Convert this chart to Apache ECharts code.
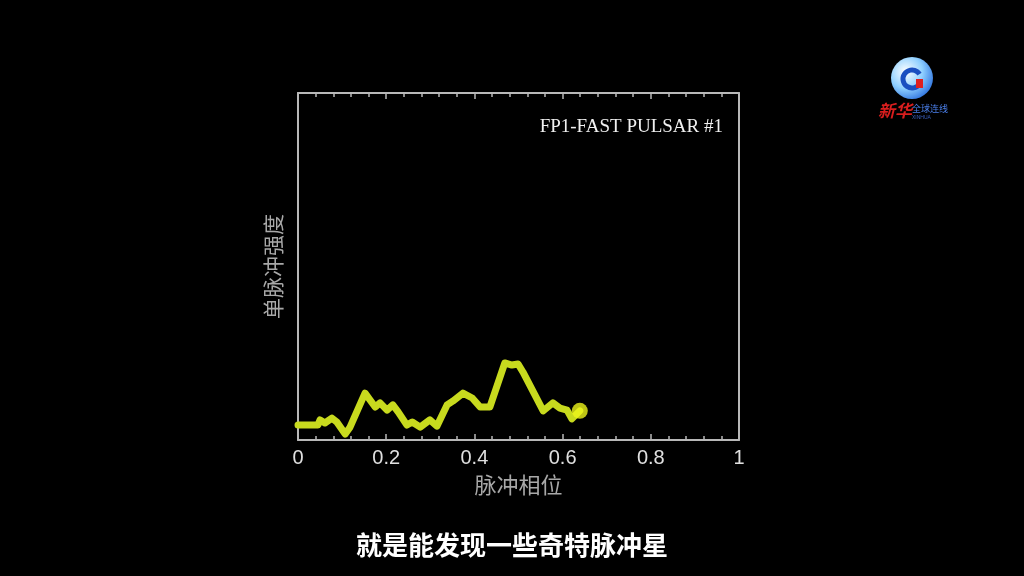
<!DOCTYPE html>
<html>
<head>
<meta charset="utf-8">
<script src="https://cdn.jsdelivr.net/npm/echarts@6/dist/echarts.min.js"></script>
<style>
html,body{margin:0;padding:0;background:#000;}
#chart{width:1024px;height:576px;}
</style>
</head>
<body>
<div id="chart"></div>
<script>
// Pulse phase (x) and single-pulse intensity (y, arbitrary units 0..1)
const phase = [0.000,0.045,0.050,0.061,0.077,0.088,0.107,0.118,0.152,0.175,0.186,0.202,0.215,0.227,0.247,0.259,0.277,0.299,0.315,0.338,0.351,0.374,0.395,0.413,0.435,0.469,0.485,0.499,0.510,0.556,0.578,0.594,0.610,0.621,0.639];
const intensity = [0.043,0.043,0.058,0.049,0.063,0.052,0.017,0.037,0.135,0.095,0.107,0.086,0.101,0.081,0.043,0.052,0.037,0.058,0.040,0.101,0.112,0.135,0.121,0.095,0.095,0.222,0.216,0.219,0.196,0.084,0.107,0.092,0.086,0.061,0.084];
const xTicks = [0, 0.2, 0.4, 0.6, 0.8, 1];
const titleText = 'FP1-FAST PULSAR #1';
const xName = '脉冲相位';
const yName = '单脉冲强度';
const caption = '就是能发现一些奇特脉冲星';

const lineData = phase.map((p, i) => [p, intensity[i]]);
const lastPoint = [lineData[lineData.length - 1]];

const chart = echarts.init(document.getElementById('chart'));
const axisColor = '#b8b8b8';
function xAxisBase() {
  return {
    type: 'value', min: 0, max: 1, interval: 0.2,
    axisLine: {show: true, onZero: false, lineStyle: {color: axisColor, width: 2}},
    axisTick: {show: true, inside: true, length: 6, lineStyle: {color: axisColor, width: 1.5}},
    minorTick: {show: true, splitNumber: 5, length: 4, lineStyle: {color: axisColor, width: 1.5}},
    splitLine: {show: false}
  };
}
chart.setOption({
  backgroundColor: '#000',
  animation: false,
  grid: {left: 298, top: 93, right: 285, bottom: 136},
  graphic: [
    {type: 'text', right: 301, top: 118, style: {text: titleText, fill: '#f0f0f0', font: '19px "Liberation Serif", serif'}},
    {type: 'text', left: 'center', top: 532, style: {text: caption, fill: '#ffffff', font: 'bold 26px "Noto Sans CJK SC", sans-serif'}},
    // broadcaster logo (approximate)
    {type: 'circle', shape: {cx: 912, cy: 78, r: 21}, style: {fill: new echarts.graphic.RadialGradient(0.35, 0.35, 0.8, [{offset: 0, color: '#ffffff'}, {offset: 0.5, color: '#8fd0ff'}, {offset: 1, color: '#1a5fd8'}])}},
    {type: 'arc', shape: {cx: 912, cy: 79, r: 9, startAngle: 0.6, endAngle: 5.7}, style: {stroke: '#1a4fc0', lineWidth: 5, fill: null}},
    {type: 'rect', shape: {x: 916, y: 79, width: 7, height: 9}, style: {fill: '#e02020'}},
    {type: 'text', left: 878, top: 102, style: {text: '新华', fill: '#d81e1e', font: 'italic bold 17px "Noto Sans CJK SC", sans-serif'}},
    {type: 'text', left: 912, top: 104, style: {text: '全球连线', fill: '#4a7ee8', font: '9px "Noto Sans CJK SC", sans-serif'}},
    {type: 'text', left: 912, top: 115, style: {text: 'XINHUA', fill: '#3a60c0', font: '5px sans-serif'}}
  ],
  xAxis: [
    Object.assign(xAxisBase(), {
      position: 'bottom',
      name: xName, nameLocation: 'middle', nameGap: 34,
      nameTextStyle: {color: '#a8a8a8', fontSize: 22, fontFamily: '"Noto Sans CJK SC", sans-serif'},
      axisLabel: {show: true, color: '#e0e0e0', fontSize: 20, margin: 8, fontFamily: 'Liberation Sans, Arial, sans-serif',
        formatter: v => xTicks.includes(Math.round(v * 10) / 10) ? String(Math.round(v * 10) / 10) : ''}
    }),
    Object.assign(xAxisBase(), {position: 'top', axisLabel: {show: false}})
  ],
  yAxis: [
    {type: 'value', min: 0, max: 1, position: 'left',
      name: yName, nameLocation: 'middle', nameGap: 14, nameRotate: 90,
      nameTextStyle: {color: '#a8a8a8', fontSize: 21, fontFamily: '"Noto Sans CJK SC", sans-serif'},
      axisLine: {show: true, onZero: false, lineStyle: {color: axisColor, width: 2}},
      axisTick: {show: false}, axisLabel: {show: false}, splitLine: {show: false}},
    {type: 'value', min: 0, max: 1, position: 'right',
      axisLine: {show: true, onZero: false, lineStyle: {color: axisColor, width: 2}},
      axisTick: {show: false}, axisLabel: {show: false}, splitLine: {show: false}}
  ],
  series: [
    {type: 'line', data: lineData, showSymbol: false, xAxisIndex: 0, yAxisIndex: 0,
      lineStyle: {color: '#c8da1e', width: 7, join: 'round', cap: 'round'}, z: 3},
    {type: 'scatter', data: lastPoint, symbolSize: 16, xAxisIndex: 0, yAxisIndex: 0,
      itemStyle: {color: '#eef51a'}, z: 4}
  ]
});
</script>
</body>
</html>
